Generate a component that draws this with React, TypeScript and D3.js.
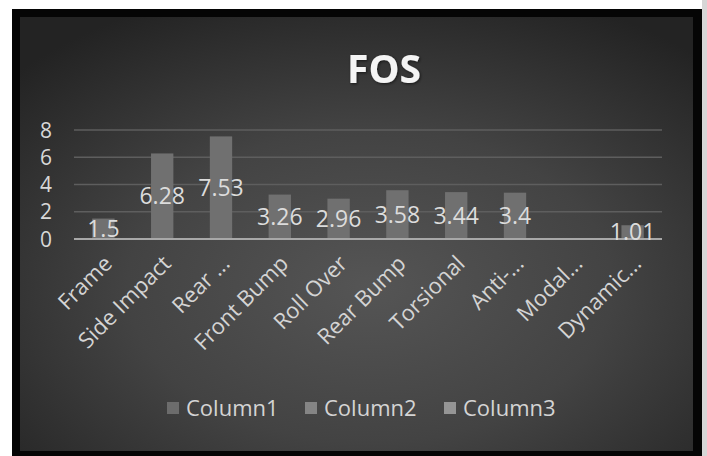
import React from "react";
import * as d3 from "d3";

const categories = ["Frame", "Side Impact", "Rear ...", "Front Bump", "Roll Over", "Rear Bump", "Torsional", "Anti-...", "Modal...", "Dynamic..."];
const values: (number | null)[] = [1.5, 6.28, 7.53, 3.26, 2.96, 3.58, 3.44, 3.4, null, 1.01];
const valueLabels = ["1.5", "6.28", "7.53", "3.26", "2.96", "3.58", "3.44", "3.4", "", "1.01"];
const yTicks = [0, 2, 4, 6, 8];
const seriesNames = ["Column1", "Column2", "Column3"];
const seriesColors = ["#6c6c6c", "#858585", "#959595"];
const title = "FOS";

const W = 707;
const H = 456;
const FONT = "'Open Sans', 'DejaVu Sans', sans-serif";

export default function App() {
  const x = d3.scaleBand<string>().domain(categories).range([74, 662]).paddingInner(0).paddingOuter(0);
  const y = d3.scaleLinear().domain([0, 8]).range([239, 130]);
  const bw = x.bandwidth() * 0.38;
  const legendX = [167, 305, 444];

  return (
    <svg width={W} height={H} style={{ position: "absolute", left: 0, top: 0 }} xmlns="http://www.w3.org/2000/svg">
      <defs>
        <radialGradient id="bg" cx="52%" cy="62%" r="72%">
          <stop offset="0%" stopColor="#555555" />
          <stop offset="50%" stopColor="#434343" />
          <stop offset="100%" stopColor="#232323" />
        </radialGradient>
        <filter id="glow" x="-20%" y="-20%" width="140%" height="140%">
          <feGaussianBlur in="SourceAlpha" stdDeviation="1.5" />
          <feOffset dx="1" dy="1" result="b" />
          <feFlood floodColor="#000" floodOpacity="0.6" />
          <feComposite in2="b" operator="in" />
          <feMerge>
            <feMergeNode />
            <feMergeNode in="SourceGraphic" />
          </feMerge>
        </filter>
      </defs>
      <rect x={0} y={0} width={W} height={H} fill="#ffffff" />
      <rect x={702} y={0} width={5} height={H} fill="#d6d6d6" />
      <rect x={12} y={9} width={690} height={447} fill="#050505" />
      <rect x={20} y={17} width={673} height={434} fill="url(#bg)" />

      <text x={384} y={83} textAnchor="middle" fontFamily={FONT} fontWeight={700} fontSize={39} fill="#f4f4f4" filter="url(#glow)">
        {title}
      </text>

      {yTicks.filter((t) => t > 0).map((t) => (
        <line key={"g" + t} x1={74} x2={662} y1={y(t)} y2={y(t)} stroke="#5e5e5e" strokeWidth={1.5} />
      ))}
      {yTicks.map((t) => (
        <text key={"yt" + t} x={46} y={y(t)} dy="0.36em" textAnchor="middle" fontFamily={FONT} fontSize={21} fill="#d8d8d8">
          {t}
        </text>
      ))}

      {categories.map((c, i) => {
        const v = values[i];
        if (v == null) return null;
        const cx = (x(c) as number) + x.bandwidth() / 2;
        return (
          <rect key={"b" + c} x={cx - bw / 2} y={y(v)} width={bw} height={y(0) - y(v)} fill="#707070" />
        );
      })}
      <line x1={74} x2={662} y1={y(0)} y2={y(0)} stroke="#a8a8a8" strokeWidth={2} />

      {categories.map((c, i) => {
        const v = values[i];
        if (v == null) return null;
        const cx = (x(c) as number) + x.bandwidth() / 2;
        return (
          <text key={"l" + c} x={cx} y={(y(v) + y(0)) / 2} dy="0.36em" textAnchor="middle" fontFamily={FONT} fontSize={23} fill="#dcdcdc">
            {valueLabels[i]}
          </text>
        );
      })}

      {categories.map((c) => {
        const cx = (x(c) as number) + x.bandwidth() / 2;
        const ax = cx + 10;
        const ay = 265;
        return (
          <text key={"x" + c} x={ax} y={ay} textAnchor="end" transform={`rotate(-45 ${ax} ${ay})`} fontFamily={FONT} fontSize={22} fill="#d4d4d4">
            {c}
          </text>
        );
      })}

      {seriesNames.map((s, i) => (
        <g key={s}>
          <rect x={legendX[i]} y={402} width={12} height={12} fill={seriesColors[i]} />
          <text x={legendX[i] + 19} y={408} dy="0.36em" fontFamily={FONT} fontSize={22} fill="#d4d4d4">
            {s}
          </text>
        </g>
      ))}
    </svg>
  );
}
